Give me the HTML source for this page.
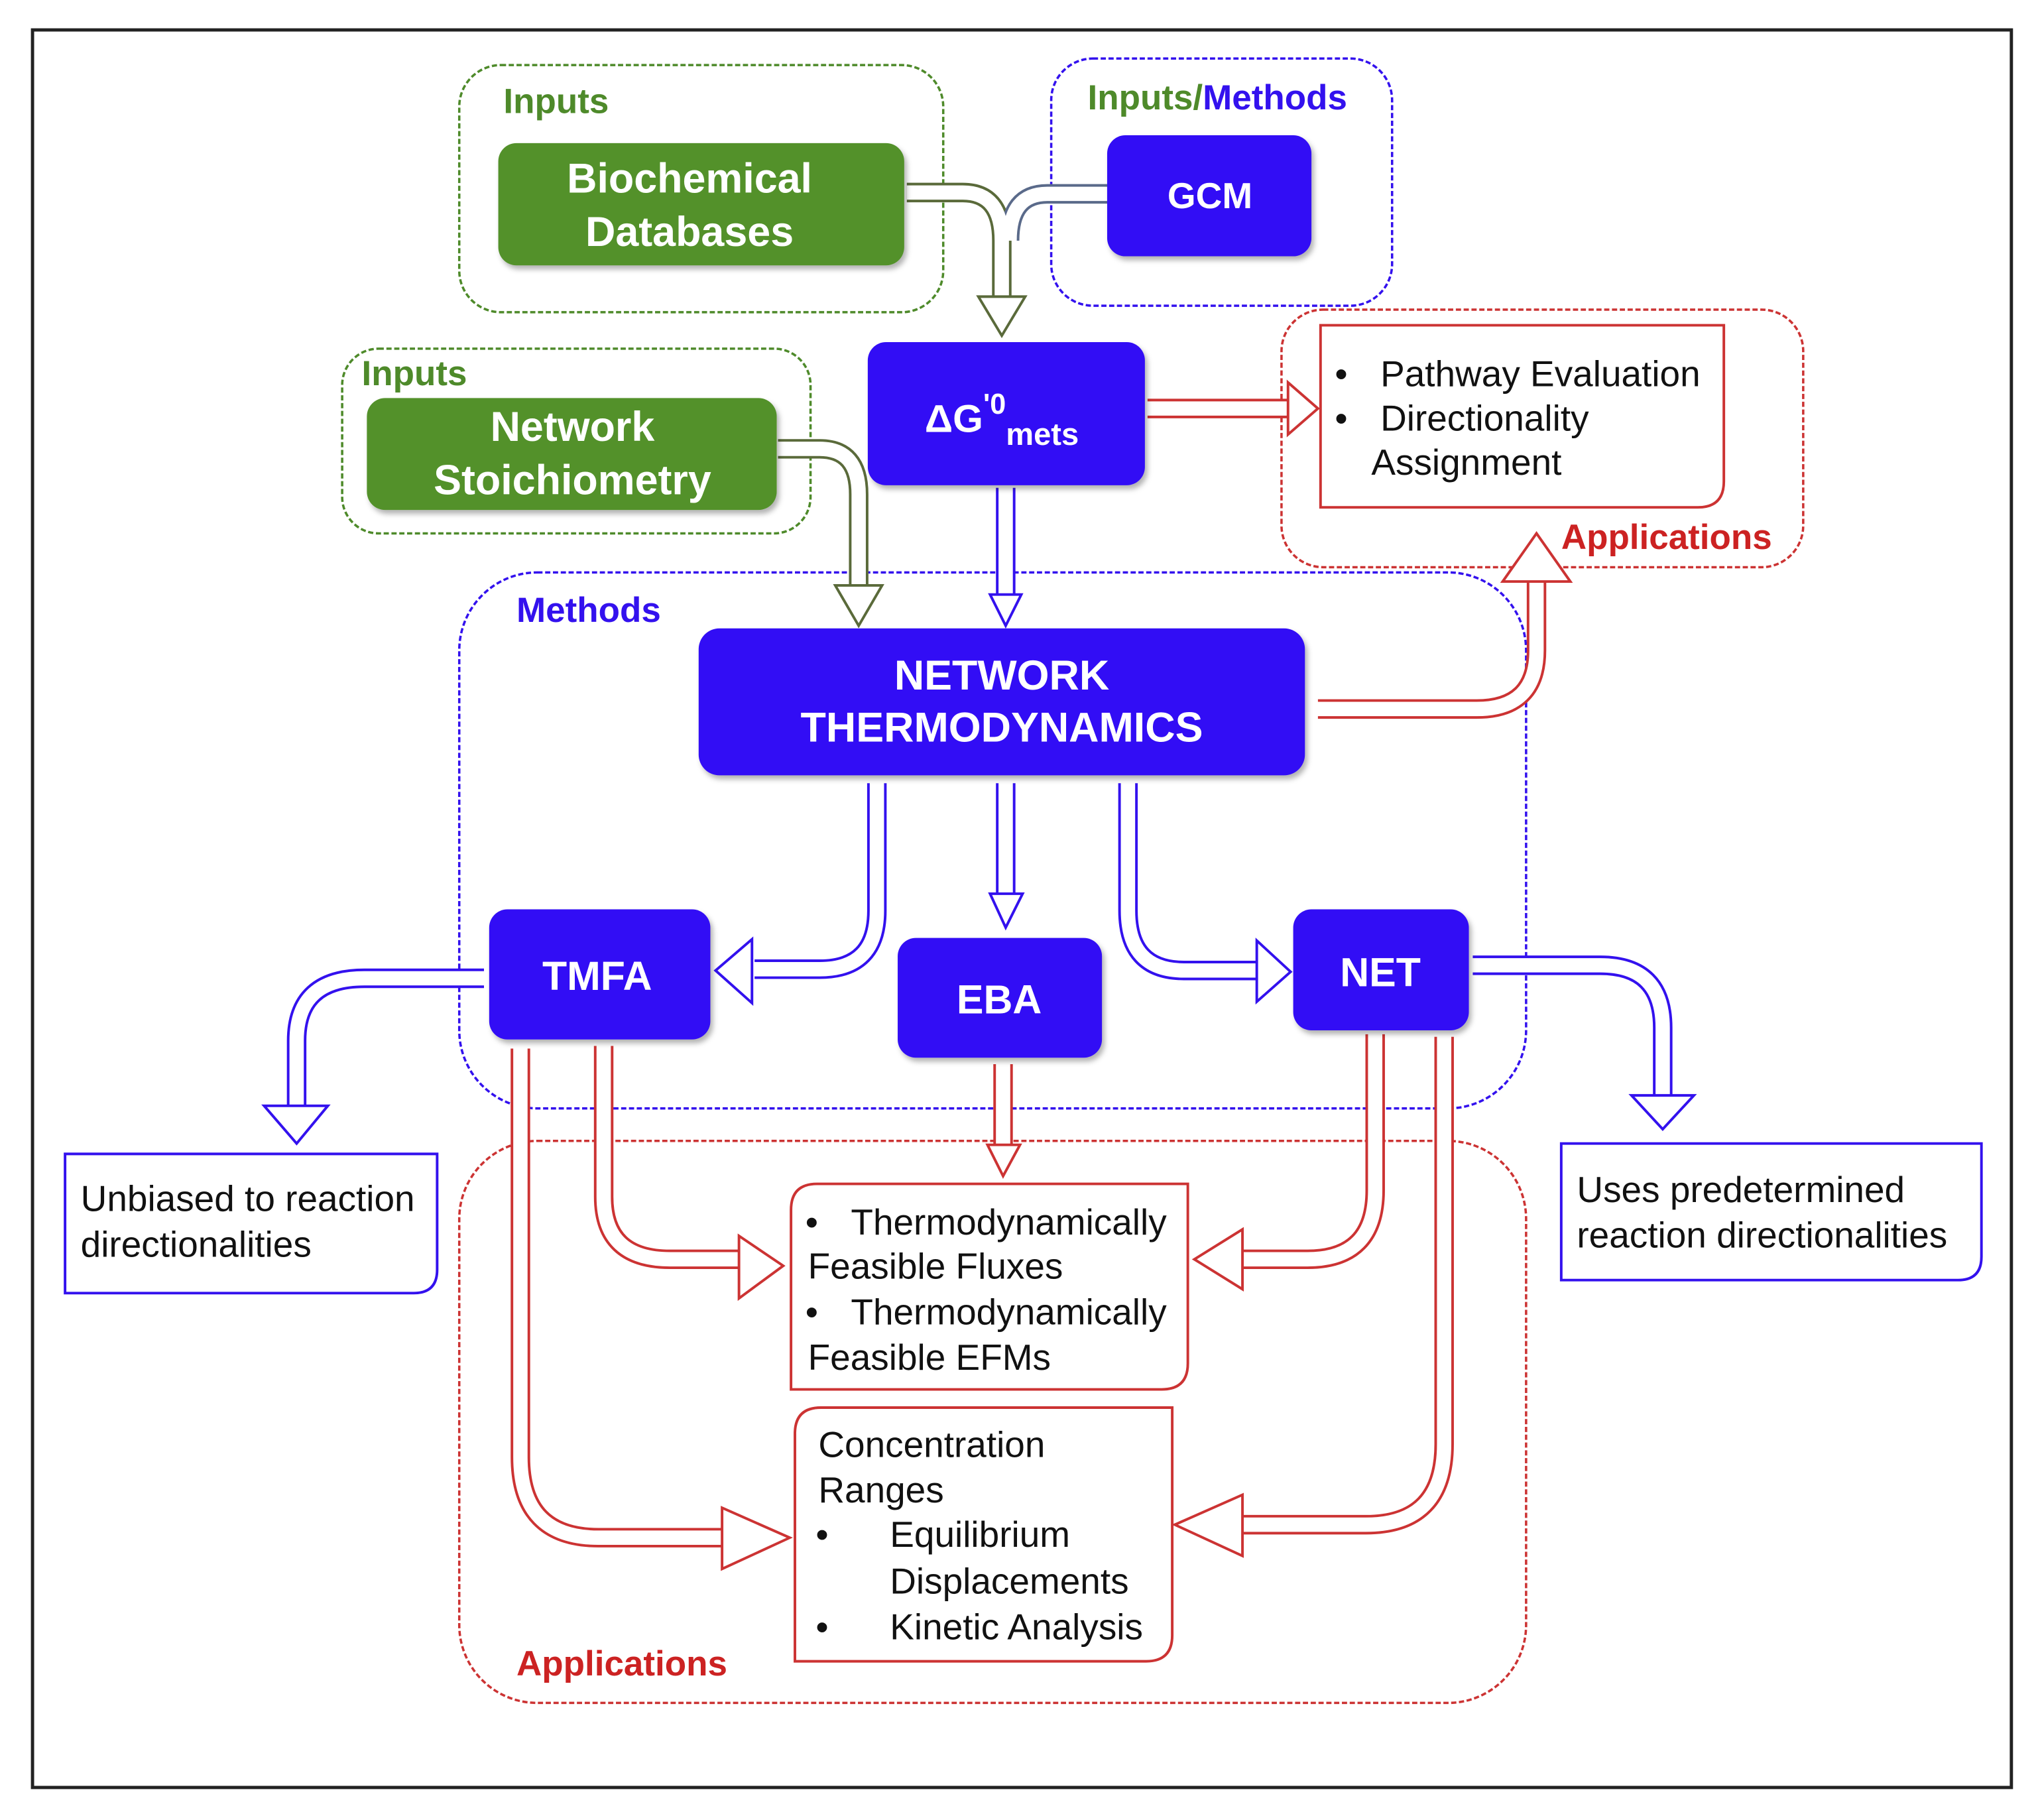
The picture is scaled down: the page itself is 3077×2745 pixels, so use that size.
<!DOCTYPE html>
<html><head><meta charset="utf-8"><style>
html,body{margin:0;padding:0;background:#fff;}
svg{display:block;}
text{font-family:"Liberation Sans",Arial,sans-serif;}
</style></head><body>
<svg width="3077" height="2745" viewBox="0 0 1568 1399" preserveAspectRatio="none" xmlns="http://www.w3.org/2000/svg">
<defs>
<filter id="sh" x="-10%" y="-10%" width="130%" height="130%"><feDropShadow dx="2" dy="3" stdDeviation="2" flood-color="#000" flood-opacity="0.3"/></filter>
</defs>
<rect x="0" y="0" width="1568" height="1399" fill="#fff"/>
<rect x="25" y="23" width="1521" height="1351" fill="none" stroke="#222" stroke-width="2.5"/>

<g fill="none" stroke-width="1.8" stroke-dasharray="4,2">
<rect x="353" y="50" width="372" height="190" rx="32" stroke="#4e8a2a"/>
<rect x="808" y="45" width="262" height="190" rx="32" stroke="#3311ee"/>
<rect x="263" y="268" width="360" height="142" rx="28" stroke="#4e8a2a"/>
<rect x="985" y="238" width="401" height="198" rx="32" stroke="#cc3333"/>
<rect x="353" y="440" width="820" height="412" rx="60" stroke="#3311ee"/>
<rect x="353" y="877" width="820" height="432" rx="60" stroke="#cc3333"/>
</g>
<g font-weight="bold" font-size="27">
<text x="387" y="87" fill="#4e8a2a">Inputs</text>
<text x="836" y="84" fill="#4e8a2a">Inputs/<tspan fill="#3311ee">Methods</tspan></text>
<text x="278" y="296" fill="#4e8a2a">Inputs</text>
<text x="1200" y="422" fill="#cc2222">Applications</text>
<text x="397" y="478" fill="#3311ee">Methods</text>
<text x="397" y="1288" fill="#cc2222">Applications</text>
</g>

<g fill="none" stroke-linecap="butt">
<g stroke-width="15">
<path d="M697,148 H740 Q770,148 770,185 V228" stroke="#5a6a3a"/>
<path d="M851,149 H805 Q776,149 776,185" stroke="#5a6a8a"/>
<path d="M882,314 H992" stroke="#cc3333"/>
<path d="M598,345 H630 Q660,345 660,380 V450" stroke="#5a6a3a"/>
<path d="M773,375 V457" stroke="#3311ee"/>
<path d="M1013,545 H1135 Q1181,545 1181,500 V447" stroke="#cc3333"/>
<path d="M674,602 V700 Q674,745 630,745 H580" stroke="#3311ee"/>
<path d="M773,602 V687" stroke="#3311ee"/>
<path d="M867,602 V700 Q867,746 910,746 H967" stroke="#3311ee"/>
<path d="M372,752 H280 Q228,752 228,800 V850" stroke="#3311ee"/>
<path d="M1132,742 H1230 Q1278,742 1278,790 V842" stroke="#3311ee"/>
<path d="M771,818 V880" stroke="#cc3333"/>
<path d="M464,804 V920 Q464,968 515,968 H570" stroke="#cc3333"/>
<path d="M400,806 V1120 Q400,1182 460,1182 H557" stroke="#cc3333"/>
<path d="M1057,795 V915 Q1057,968 1005,968 H953" stroke="#cc3333"/>
<path d="M1110,797 V1110 Q1110,1172 1050,1172 H953" stroke="#cc3333"/>
</g>
<g stroke-width="11" stroke="#fff">
<path d="M697,148 H740 Q770,148 770,185 V230"/>
<path d="M851,149 H805 Q776,149 776,185"/>
<path d="M880,314 H994"/>
<path d="M596,345 H630 Q660,345 660,380 V452"/>
<path d="M773,373 V459"/>
<path d="M1011,545 H1135 Q1181,545 1181,500 V445"/>
<path d="M674,600 V700 Q674,745 630,745 H578"/>
<path d="M773,600 V689"/>
<path d="M867,600 V700 Q867,746 910,746 H969"/>
<path d="M374,752 H280 Q228,752 228,800 V852"/>
<path d="M1130,742 H1230 Q1278,742 1278,790 V844"/>
<path d="M771,816 V882"/>
<path d="M464,802 V920 Q464,968 515,968 H572"/>
<path d="M400,804 V1120 Q400,1182 460,1182 H559"/>
<path d="M1057,793 V915 Q1057,968 1005,968 H951"/>
<path d="M1110,795 V1110 Q1110,1172 1050,1172 H951"/>
</g>
</g>
<g fill="#fff" stroke-width="2" stroke-linejoin="miter">
<polygon points="752,228 788,228 770,258" stroke="#5a6a3a"/>
<polygon points="990,294 990,334 1013,314" stroke="#cc3333"/>
<polygon points="642,450 678,450 660,481" stroke="#5a6a3a"/>
<polygon points="761,457 785,457 773,481" stroke="#3311ee"/>
<polygon points="1155,447 1207,447 1181,410" stroke="#cc3333"/>
<polygon points="578,722 578,771 550,746" stroke="#3311ee"/>
<polygon points="761,687 786,687 773,713" stroke="#3311ee"/>
<polygon points="966,723 966,770 992,747" stroke="#3311ee"/>
<polygon points="203,850 252,850 228,879" stroke="#3311ee"/>
<polygon points="1254,842 1302,842 1278,868" stroke="#3311ee"/>
<polygon points="759,880 784,880 771,904" stroke="#cc3333"/>
<polygon points="568,950 568,998 602,973" stroke="#cc3333"/>
<polygon points="555,1159 555,1206 607,1182" stroke="#cc3333"/>
<polygon points="955,945 955,991 918,968" stroke="#cc3333"/>
<polygon points="955,1149 955,1196 903,1172" stroke="#cc3333"/>
</g>

<g filter="url(#sh)">
<rect x="383" y="110" width="312" height="94" rx="14" fill="#53912c"/>
<rect x="851" y="104" width="157" height="93" rx="14" fill="#3311f5"/>
<rect x="667" y="263" width="213" height="110" rx="14" fill="#3311f5"/>
<rect x="282" y="306" width="315" height="86" rx="14" fill="#53912c"/>
<rect x="537" y="483" width="466" height="113" rx="16" fill="#3311f5"/>
<rect x="376" y="699" width="170" height="100" rx="14" fill="#3311f5"/>
<rect x="690" y="721" width="157" height="92" rx="14" fill="#3311f5"/>
<rect x="994" y="699" width="135" height="93" rx="14" fill="#3311f5"/>
</g>
<g fill="#fff" font-weight="bold" text-anchor="middle">
<text x="530" y="148" font-size="32">Biochemical</text>
<text x="530" y="189" font-size="32">Databases</text>
<text x="930" y="160" font-size="28">GCM</text>
<text x="770" y="332" font-size="30">ΔG<tspan font-size="22" dy="-14">'0</tspan><tspan font-size="24" dy="24">mets</tspan></text>
<text x="440" y="339" font-size="32">Network</text>
<text x="440" y="380" font-size="32">Stoichiometry</text>
<text x="770" y="530" font-size="32">NETWORK</text>
<text x="770" y="570" font-size="32">THERMODYNAMICS</text>
<text x="459" y="761" font-size="31">TMFA</text>
<text x="768" y="779" font-size="31">EBA</text>
<text x="1061" y="758" font-size="31">NET</text>
</g>

<g fill="#fff" stroke-width="2">
<path d="M1015,250 H1325 V370 Q1325,390 1305,390 H1015 Z" stroke="#cc3333"/>
<path d="M50,887 H336 V976 Q336,994 318,994 H50 Z" stroke="#3311ee"/>
<path d="M1200,879 H1523 V966 Q1523,984 1505,984 H1200 Z" stroke="#3311ee"/>
<path d="M628,910 H913 V1048 Q913,1068 893,1068 H608 V930 Q608,910 628,910 Z" stroke="#cc3333"/>
<path d="M631,1082 H901 V1257 Q901,1277 881,1277 H611 V1102 Q611,1082 631,1082 Z" stroke="#cc3333"/>
</g>
<g fill="#111" font-size="28">
<text x="1026" y="297">•</text><text x="1061" y="297">Pathway Evaluation</text>
<text x="1026" y="331">•</text><text x="1061" y="331">Directionality</text>
<text x="1054" y="365">Assignment</text>
<text x="62" y="931">Unbiased to reaction</text>
<text x="62" y="966">directionalities</text>
<text x="1212" y="924">Uses predetermined</text>
<text x="1212" y="959">reaction directionalities</text>
<text x="619" y="949">•</text><text x="654" y="949">Thermodynamically</text>
<text x="621" y="983">Feasible Fluxes</text>
<text x="619" y="1018">•</text><text x="654" y="1018">Thermodynamically</text>
<text x="621" y="1053">Feasible EFMs</text>
<text x="629" y="1120">Concentration</text>
<text x="629" y="1155">Ranges</text>
<text x="627" y="1189">•</text><text x="684" y="1189">Equilibrium</text>
<text x="684" y="1225">Displacements</text>
<text x="627" y="1260">•</text><text x="684" y="1260">Kinetic Analysis</text>
</g>
</svg>
</body></html>
